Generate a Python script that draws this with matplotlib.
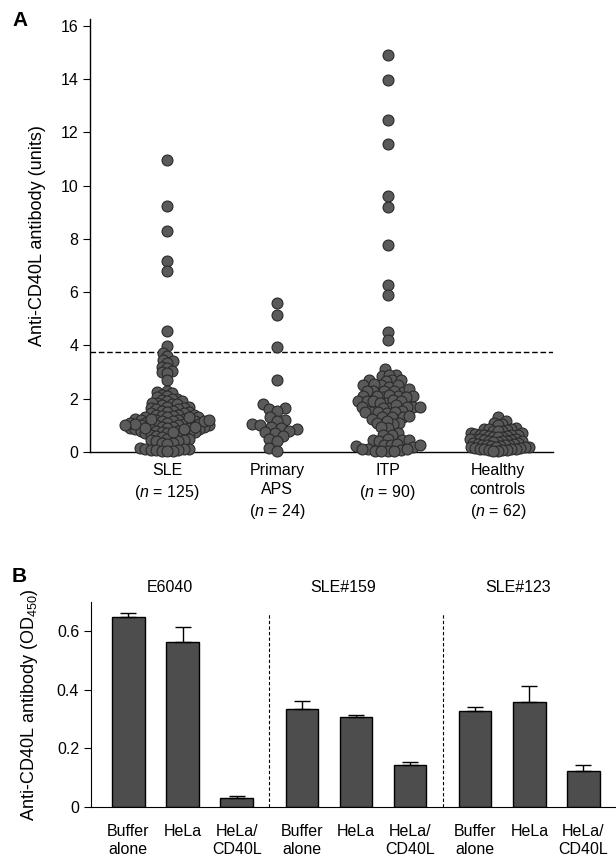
import numpy as np
import matplotlib.pyplot as plt

plt.rcParams['font.family'] = ['Liberation Sans Narrow', 'Liberation Sans', 'DejaVu Sans']
plt.rcParams['mathtext.fontset'] = 'custom'
plt.rcParams['mathtext.it'] = 'Liberation Sans:italic'
plt.rcParams['mathtext.rm'] = 'Liberation Sans'

# ---------------- data, panel A ----------------
groups_a = ['SLE\n($\\it{n}$ = 125)', 'Primary\nAPS\n($\\it{n}$ = 24)',
            'ITP\n($\\it{n}$ = 90)', 'Healthy\ncontrols\n($\\it{n}$ = 62)']

sle = [10.95, 9.25, 8.3, 7.15, 6.8, 4.55, 3.98,
       3.72, 3.6, 3.45, 3.4, 3.35, 3.2, 3.15, 3.05, 3.0, 2.95, 2.7,
       2.3, 2.25, 2.2, 2.15, 2.1, 2.05, 2.0, 2.0,
       1.95, 1.9, 1.9, 1.85, 1.85, 1.8, 1.8, 1.75,
       1.7, 1.7, 1.65, 1.65, 1.6, 1.6, 1.55, 1.55,
       1.5, 1.5, 1.45, 1.45, 1.4, 1.4, 1.4, 1.35,
       1.35, 1.3, 1.3, 1.3, 1.25, 1.25, 1.2, 1.2,
       1.2, 1.15, 1.15, 1.15, 1.1, 1.1, 1.1, 1.05,
       1.05, 1.05, 1.0, 1.0, 1.0, 1.0, 0.95, 0.95,
       0.95, 0.9, 0.9, 0.9, 0.85, 0.85, 0.85, 0.8,
       0.8, 0.8, 0.75, 0.75, 0.7, 0.7, 0.7, 0.65,
       0.65, 0.6, 0.6, 0.55, 0.55, 0.5, 0.5, 0.45,
       0.45, 0.4, 0.4, 0.35, 0.35, 0.3,
       1.25, 1.15, 1.1, 1.05, 1.0, 0.95, 0.9, 0.85, 1.2, 1.3, 0.75,
       0.15, 0.12, 0.1, 0.1, 0.08, 0.08, 0.06, 0.05, 0.05, 0.04]

aps = [5.6, 5.15, 3.95, 2.7, 1.8, 1.65, 1.6, 1.55, 1.3, 1.2, 1.15, 1.05,
       1.0, 0.95, 0.9, 0.85, 0.8, 0.75, 0.7, 0.6, 0.5, 0.4, 0.15, 0.05]

itp = [14.9, 13.95, 12.45, 11.55, 9.6, 9.2, 7.75, 6.25, 5.9, 4.5, 4.2,
       3.1, 2.9, 2.85, 2.9, 2.7, 2.7, 2.65, 2.7,
       2.5, 2.5, 2.45, 2.5, 2.55, 2.3, 2.3, 2.25, 2.35, 2.3, 2.3,
       2.1, 2.1, 2.05, 2.15, 2.1, 2.1, 2.05,
       1.9, 1.9, 1.85, 1.95, 1.9, 1.9, 1.85,
       1.7, 1.7, 1.65, 1.75, 1.7, 1.7, 1.65,
       1.5, 1.5, 1.45, 1.55, 1.5, 1.5,
       1.3, 1.3, 1.25, 1.35, 1.3,
       1.1, 1.1, 1.05, 1.15, 0.9, 0.92,
       0.72, 0.65, 0.62,
       0.45, 0.45, 0.42, 0.48, 0.45,
       0.28, 0.25, 0.22, 0.3, 0.2, 0.25,
       0.1, 0.05, 0.12, 0.04, 0.08, 0.05, 0.1, 0.05]

healthy = [1.32,
           1.15, 1.1, 1.05, 1.0,
           0.9, 0.88, 0.85, 0.85, 0.82, 0.8, 0.8, 0.78,
           0.7, 0.7, 0.68, 0.65, 0.65, 0.62, 0.62, 0.6, 0.6, 0.58, 0.58, 0.55,
           0.5, 0.5, 0.48, 0.48, 0.45, 0.45, 0.42, 0.42, 0.4, 0.4, 0.38, 0.38, 0.35, 0.35,
           0.3, 0.3, 0.28, 0.28, 0.25, 0.25, 0.22, 0.22, 0.2, 0.2, 0.18, 0.18,
           0.15, 0.15, 0.12, 0.12, 0.1, 0.1, 0.08, 0.08, 0.06, 0.05, 0.05]

cutoff = 3.75

# ---------------- data, panel B ----------------
samples_b = ['E6040', 'SLE#159', 'SLE#123']
conds_b = ['Buffer\nalone', 'HeLa', 'HeLa/\nCD40L']
od_mean = [0.648, 0.563, 0.03, 0.335, 0.306, 0.142, 0.329, 0.359, 0.122]
od_err = [0.013, 0.051, 0.006, 0.028, 0.008, 0.01, 0.014, 0.054, 0.02]


def swarm(vals, d, xs, ys):
    # simple beeswarm: x offsets (data units) so that dots keep distance d (px)
    vals = np.asarray(vals, dtype=float)
    order = np.argsort(vals)
    placed = []
    out = np.zeros(len(vals))
    for n, i in enumerate(order):
        y = vals[i] * ys
        k = 0
        best = None
        sgns = (1, -1) if n % 2 == 0 else (-1, 1)
        while best is None:
            for s in (sgns if k else (1,)):
                x = s * k * 0.5
                if all((x - px) ** 2 + (y - py) ** 2 >= d * d for px, py in placed):
                    best = x
                    break
            k += 1
        placed.append((best, y))
        out[i] = best / xs
    return out


fig = plt.figure(figsize=(6.16, 8.58), dpi=100)

# ================= panel A =================
axA = fig.add_axes([90 / 616, 1 - 452 / 858, 463 / 616, 433 / 858])
xlo, xhi, ylo, yhi = 0.3, 4.5, 0, 16.25
xs = 463 / (xhi - xlo)
ys = 433 / (yhi - ylo)
gaps = [5.2, 8.0, 6.2, 4.4]
for k, vals in enumerate([sle, aps, itp, healthy]):
    dx = swarm(vals, gaps[k], xs, ys)
    axA.scatter(k + 1 + dx, vals, s=62, facecolor='#5a5a5a', edgecolor='#2a2a2a',
                linewidth=0.8, zorder=3, clip_on=False)

axA.axhline(cutoff, color='black', lw=1.0, ls=(0, (4, 2)))
axA.set_xlim(xlo, xhi)
axA.set_ylim(ylo, yhi)
axA.set_yticks(range(0, 17, 2))
axA.set_xticks([1, 2, 3, 4])
axA.set_xticklabels(groups_a, fontsize=11.5, linespacing=1.35, va='top')
axA.tick_params(axis='x', length=0, pad=8)
axA.tick_params(axis='y', labelsize=11.5, length=5, direction='out')
for sp in ['top', 'right']:
    axA.spines[sp].set_visible(False)
axA.spines['left'].set_linewidth(1.0)
axA.spines['bottom'].set_linewidth(1.0)
axA.set_ylabel('Anti-CD40L antibody (units)', fontsize=13, labelpad=10)
fig.text(12 / 616, 1 - 20 / 858, 'A', fontsize=15, fontweight='bold', va='center')

# ================= panel B =================
axB = fig.add_axes([91 / 616, 1 - 807 / 858, 525 / 616, 205 / 858])
pos = [0, 1, 2, 3.2, 4.2, 5.2, 6.4, 7.4, 8.4]
axB.bar(pos, od_mean, width=0.6, color='#4d4d4d', edgecolor='black', linewidth=1.0, zorder=2)
axB.errorbar(pos, od_mean, yerr=[np.zeros(len(od_err)), od_err], fmt='none',
             ecolor='black', elinewidth=1.0, capsize=5.5, capthick=1.0, zorder=3)
axB.vlines([2.6, 5.8], 0, 0.66, colors='black', linestyles=(0, (3, 2)), lw=0.8)
for x, name in zip([0.77, 3.97, 7.2], samples_b):
    axB.text(x, 0.748, name, ha='center', va='center', fontsize=11.5, clip_on=False)
axB.set_xlim(-0.69, 9.0)
axB.set_ylim(0, 0.7)
axB.set_yticks([0, 0.2, 0.4, 0.6])
axB.set_yticklabels(['0', '0.2', '0.4', '0.6'])
axB.set_xticks(pos)
axB.set_xticklabels(conds_b * 3, fontsize=11.5, linespacing=1.3, va='top')
axB.tick_params(axis='x', length=0, pad=12)
axB.tick_params(axis='y', labelsize=11.5, length=5, direction='out')
for sp in ['top', 'right']:
    axB.spines[sp].set_visible(False)
axB.set_ylabel('Anti-CD40L antibody (OD$_{450}$)', fontsize=13, labelpad=12)
fig.text(12 / 616, 1 - 577 / 858, 'B', fontsize=15, fontweight='bold', va='center')

fig.savefig('out.png', dpi=100)
